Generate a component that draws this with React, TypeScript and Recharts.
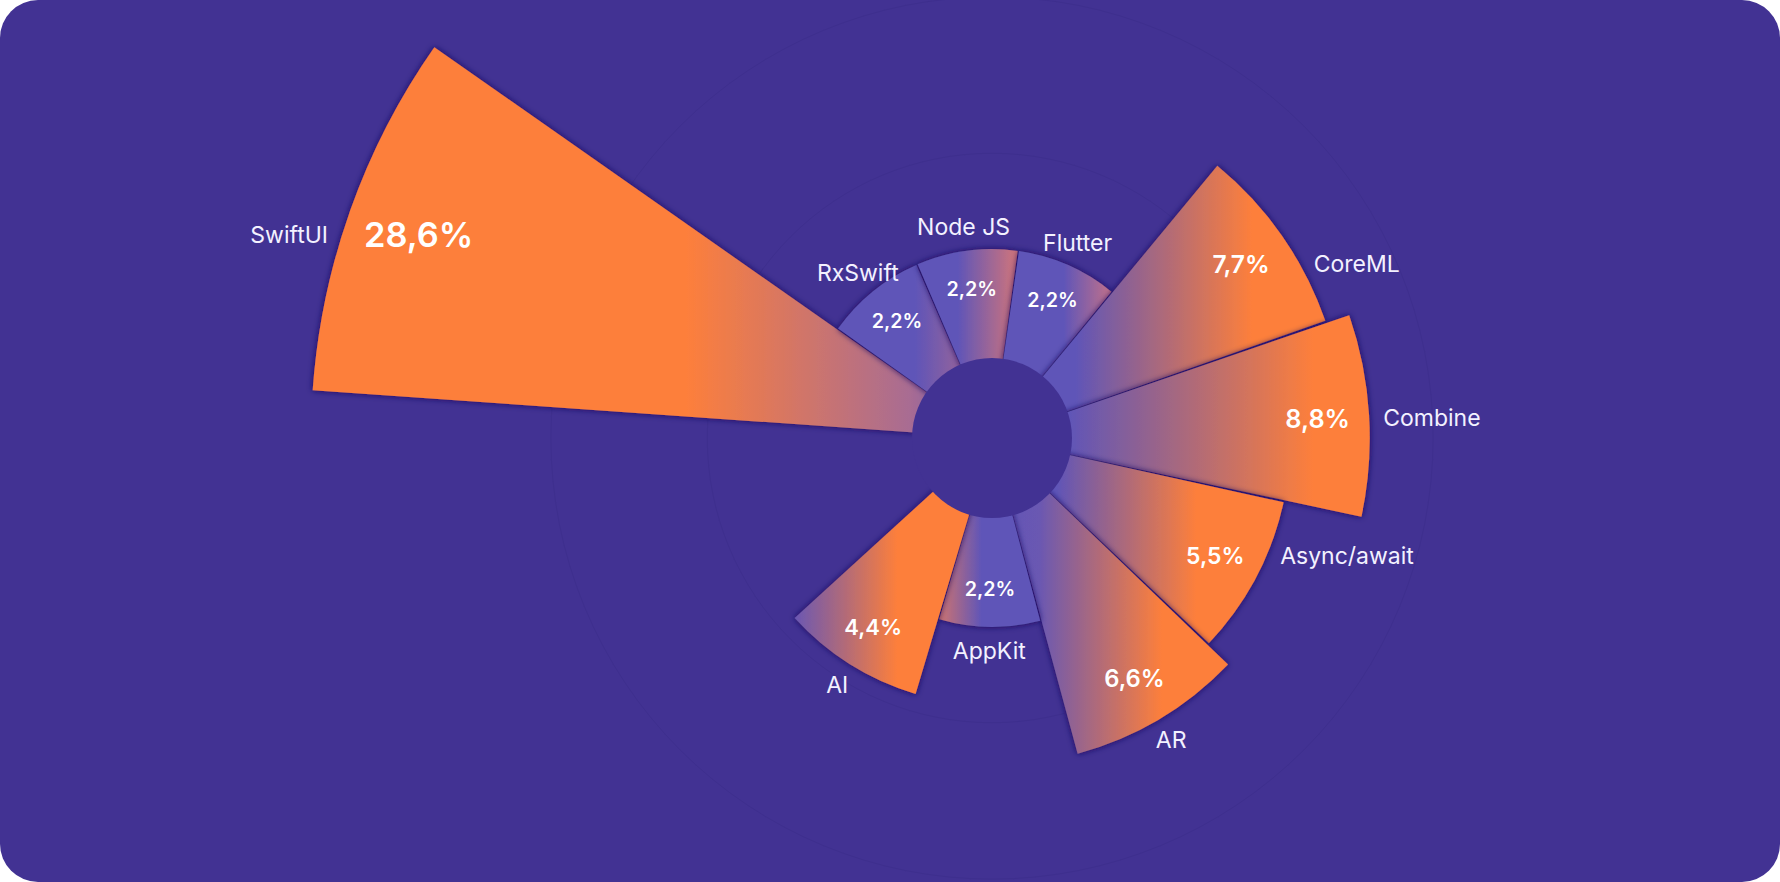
import React from 'react';
import {
  RadialBarChart, RadialBar, PolarAngleAxis, PolarRadiusAxis, PolarGrid, Cell, LabelList
} from 'recharts';

const TOOLS = ['SwiftUI', 'RxSwift', 'Node JS', 'Flutter', 'CoreML', 'Combine', 'Async/await', 'AR', 'AppKit', 'AI'];
const SHARES = [28.6, 2.2, 2.2, 2.2, 7.7, 8.8, 5.5, 6.6, 2.2, 4.4];
const GRID_TICKS = [5, 12];

const rows = TOOLS.map((name, i) => ({ name, share: SHARES[i] }));

const BG = '#423293';
const PURPLE = '#5f55b8';
const ORANGE = '#fd7f3b';
const FONT = 'Inter, "Open Sans", sans-serif';

const W = 1780;
const H = 882;
const CX = 992;
const CY = 438;
const HOLE = 80;

// left-to-right fade inside each sector (offset, colour)
const FADES: [number, string][][] = [
  [[0, ORANGE], [0.55, ORANGE], [0.88, '#a86c93'], [1, PURPLE]],
  [[0, PURPLE], [0.5, PURPLE], [1, '#b86c88']],
  [[0, PURPLE], [0.4, PURPLE], [1, '#d2757a']],
  [[0, PURPLE], [0.6, PURPLE], [1, '#c2718a']],
  [[0, PURPLE], [0.25, PURPLE], [0.78, ORANGE], [1, ORANGE]],
  [[0, PURPLE], [0.2, PURPLE], [0.85, ORANGE], [1, ORANGE]],
  [[0, PURPLE], [0.22, PURPLE], [0.7, ORANGE], [1, ORANGE]],
  [[0, PURPLE], [0.2, '#6a58b2'], [0.72, ORANGE], [1, ORANGE]],
  [[0, '#cf7470'], [0.42, PURPLE], [1, PURPLE]],
  [[0, '#6a57b3'], [0.52, ORANGE], [1, ORANGE]],
];

const RAD = Math.PI / 180;
const polar = (cx: number, cy: number, r: number, deg: number) => ({
  x: cx + r * Math.cos(-deg * RAD),
  y: cy + r * Math.sin(-deg * RAD),
});

// percentage sits a bit inside the outer arc
const shareRadius = (outer: number) => outer * 0.93 - 25;

const ShareLabel = (props: any) => {
  const { viewBox, value } = props;
  if (!viewBox) return null;
  const { cx, cy, outerRadius, startAngle, endAngle } = viewBox;
  const mid = (startAngle + endAngle) / 2;
  const p = polar(cx, cy, shareRadius(outerRadius), mid);
  const size = 14 + outerRadius * 0.03;
  return (
    <text x={p.x} y={p.y} textAnchor="middle" dominantBaseline="central"
      fill="#ffffff" fontSize={size} fontWeight={600} fontFamily={FONT}>
      {`${String(value).replace('.', ',')}%`}
    </text>
  );
};

const NameLabel = (props: any) => {
  const { viewBox, value } = props;
  if (!viewBox) return null;
  const { cx, cy, outerRadius, startAngle, endAngle } = viewBox;
  const mid = (startAngle + endAngle) / 2;
  const cos = Math.cos(mid * RAD);
  const common = { fill: '#f3f1ff', fontSize: 23, fontWeight: 400, fontFamily: FONT, dominantBaseline: 'central' as const };
  if (Math.abs(cos) > 0.7) {
    // side sectors: name on the same line as the percentage, just past the arc
    const p = polar(cx, cy, shareRadius(outerRadius), mid);
    const dy = p.y - cy;
    const edge = Math.sqrt(Math.max(outerRadius * outerRadius - dy * dy, 0));
    const side = cos > 0 ? 1 : -1;
    return (
      <text x={cx + side * (edge + 14)} y={p.y} textAnchor={side > 0 ? 'start' : 'end'} {...common}>
        {value}
      </text>
    );
  }
  const p = polar(cx, cy, outerRadius + 24, mid);
  return (
    <text x={p.x} y={p.y} textAnchor="middle" {...common}>
      {value}
    </text>
  );
};

export default function App() {
  return (
    <div style={{ width: W, height: H, position: 'relative' }}>
      <style>{'body{margin:0;background:#ffffff}'}</style>
      <div style={{ position: 'absolute', inset: 0, borderRadius: 38, background: BG, overflow: 'hidden' }}>
        <RadialBarChart
          width={W}
          height={H}
          data={rows}
          layout="centric"
          cx={CX}
          cy={CY}
          innerRadius={0}
          outerRadius={681}
          startAngle={144.6}
          endAngle={-169.4}
          barCategoryGap="1.2%"
          margin={{ top: 0, right: 0, bottom: 0, left: 0 }}
        >
          <defs>
            {FADES.map((stops, i) => (
              <linearGradient key={i} id={`fade-${i}`} x1="0" y1="0" x2="1" y2="0">
                {stops.map(([o, c], j) => (
                  <stop key={j} offset={o} stopColor={c} />
                ))}
              </linearGradient>
            ))}
            <filter id="gapShadow" x="-20%" y="-20%" width="140%" height="140%">
              <feDropShadow dx="0" dy="0" stdDeviation="3" floodColor="#170f58" floodOpacity="0.95" />
            </filter>
          </defs>
          <PolarGrid gridType="circle" radialLines={false} stroke="#3e2f8e" strokeWidth={1} />
          <PolarAngleAxis type="category" dataKey="name" tick={false} axisLine={false} tickLine={false} />
          <PolarRadiusAxis type="number" scale="sqrt" domain={[0, 'dataMax']} ticks={GRID_TICKS}
            tick={false} axisLine={false} tickLine={false} />
          <RadialBar dataKey="share" isAnimationActive={false}>
            {rows.map((r, i) => (
              <Cell key={r.name} fill={`url(#fade-${i})`} filter="url(#gapShadow)" />
            ))}
            <LabelList dataKey="share" content={ShareLabel} />
            <LabelList dataKey="name" content={NameLabel} />
          </RadialBar>
        </RadialBarChart>
        <div
          style={{
            position: 'absolute',
            left: CX - HOLE,
            top: CY - HOLE,
            width: HOLE * 2,
            height: HOLE * 2,
            borderRadius: '50%',
            background: BG,
          }}
        />
      </div>
    </div>
  );
}
